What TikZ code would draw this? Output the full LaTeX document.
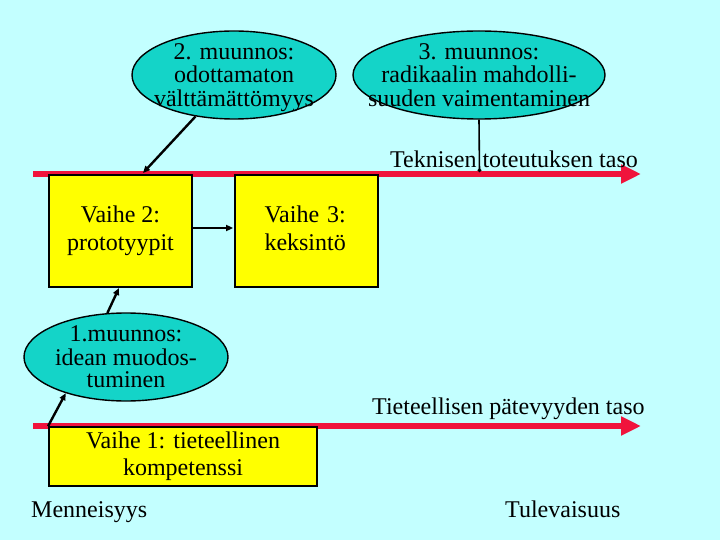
\documentclass[tikz,border=0pt]{standalone}
\usepackage{fontspec}
\setmainfont{Liberation Serif}
\usetikzlibrary{arrows.meta,shapes.geometric,calc}
\definecolor{bgcyan}{RGB}{195,255,255}
\definecolor{teal2}{RGB}{20,212,200}
\definecolor{redbar}{RGB}{240,20,60}
\definecolor{yel}{RGB}{255,255,0}
\newcommand{\ovaltext}[1]{\makebox[0pt]{\raisebox{-9.5bp}{\begin{tabular}{@{}c@{}}#1\end{tabular}}}}
\newcommand{\boxtext}[2]{\raisebox{-3bp}{\begin{tabular}{@{}#1@{}}#2\end{tabular}}}
\begin{document}
\begin{tikzpicture}[x=1bp,y=-1bp,
  every node/.style={font=\fontsize{24bp}{27.6bp}\selectfont},
  oval/.style={ellipse,draw=black,line width=1.4bp,fill=teal2,inner sep=0pt,
    text height=0pt,text depth=0pt,
    font=\fontsize{24bp}{22.5bp}\selectfont},
  stagebox/.style={rectangle,draw=black,line width=1.8bp,fill=yel,inner sep=0pt},
  level/.style={draw=redbar,line width=6bp,-{Triangle[length=20bp,width=18bp]}},
  conn/.style={draw=black,line width=2.4bp,-{Triangle[length=7bp,width=6bp]}},
  lbl/.style={inner sep=0pt,anchor=base west}]
\fill[bgcyan] (0,0) rectangle (720,540);
\useasboundingbox (0,0) rectangle (720,540);
% level arrows
\coordinate (l1s) at (33,174);
\coordinate (l1e) at (641,174);
\coordinate (l2s) at (33,426);
\coordinate (l2e) at (641,426);
\draw[level] (l1s) -- (l1e);
\draw[level,line width=5.5bp] (l2s) -- (l2e);
% ovals
\node[oval,minimum width=204bp,minimum height=88bp] (e2) at (234,75)
  {\ovaltext{2. muunnos:\\odottamaton\\välttämättömyys}};
\node[oval,minimum width=252bp,minimum height=88bp] (e3) at (479,75)
  {\ovaltext{3. muunnos:\\radikaalin mahdolli-\\suuden vaimentaminen}};
\node[oval,minimum width=204bp,minimum height=88bp] (e1) at (126,357)
  {\ovaltext{1.muunnos:\\idean muodos-\\tuminen}};
% boxes
\node[stagebox,minimum width=143bp,minimum height=112bp] (b2) at (120.5,231)
  {\boxtext{c}{Vaihe 2:\\prototyypit}};
\node[stagebox,minimum width=143bp,minimum height=112bp,text width=84bp,inner xsep=29.5bp] (b3) at (306.5,231)
  {\boxtext{l}{Vaihe 3:\\keksintö}};
\node[stagebox,minimum width=268bp,minimum height=59bp] (b1) at (183,456.5)
  {\boxtext{c}{Vaihe 1: tieteellinen\\kompetenssi}};
% labels
\node[lbl] (tt) at (390,168) {Teknisen toteutuksen taso};
\node[lbl] (tp) at (372,414) {Tieteellisen pätevyyden taso};
\node[lbl] (mn) at (31,517) {Menneisyys};
\node[lbl] (tl) at (505,517) {Tulevaisuus};
% connectors
\coordinate (t2) at (143,173);
\coordinate (t3) at (479.5,172);
\coordinate (t1) at (119,288);
\draw[conn] (e2) -- (t2);
\draw[draw=black,line width=1.6bp,-{Circle[length=3.5bp]}] (e3.south) -- (t3);
\draw[conn] ([yshift=3bp]b2.east) -- ([yshift=3bp,xshift=-1bp]b3.west);
\draw[conn] (e1.113) -- (t1);
\draw[conn] (b1.north west) -- (e1.211);
\end{tikzpicture}
\end{document}
